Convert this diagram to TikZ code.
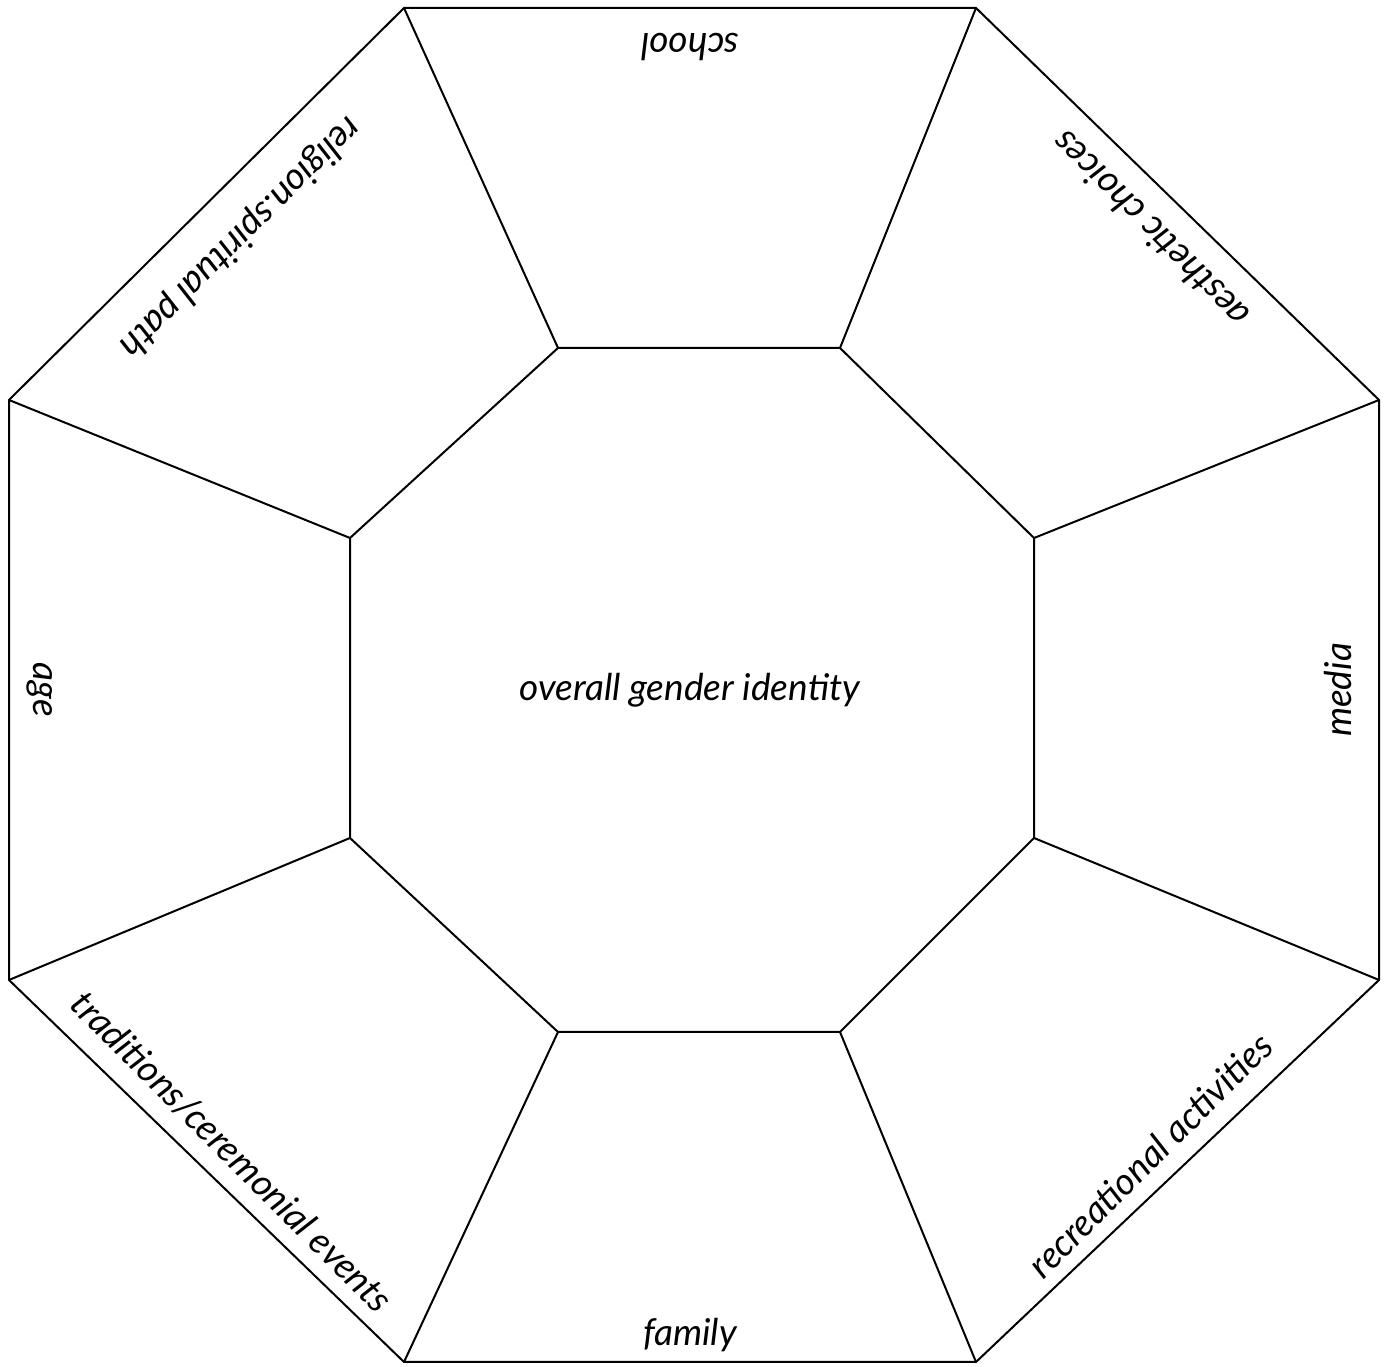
\documentclass[tikz,border=0pt]{standalone}
\usepackage{fontspec}
\setmainfont{Lato}
\begin{document}
\begin{tikzpicture}[x=1pt,y=1pt,
  edge/.style={line width=2pt,line join=miter},
  lbl/.style={font=\fontsize{37}{44}\selectfont\itshape,inner sep=0pt}]
\useasboundingbox (0,0) rectangle (1387,1367);
% outer vertices
\coordinate (o1) at (404,1359);
\coordinate (o2) at (976,1359);
\coordinate (o3) at (1379,967);
\coordinate (o4) at (1379,387);
\coordinate (o5) at (976,5);
\coordinate (o6) at (404,5);
\coordinate (o7) at (9,387);
\coordinate (o8) at (9,967);
% inner vertices
\coordinate (i1) at (558,1019);
\coordinate (i2) at (840,1019);
\coordinate (i3) at (1034,829);
\coordinate (i4) at (1034,529);
\coordinate (i5) at (840,335);
\coordinate (i6) at (558,335);
\coordinate (i7) at (350,529);
\coordinate (i8) at (350,829);
\draw[edge] (o1)--(o2)--(o3)--(o4)--(o5)--(o6)--(o7)--(o8)--cycle;
\draw[edge] (i1)--(i2)--(i3)--(i4)--(i5)--(i6)--(i7)--(i8)--cycle;
\foreach \k in {1,...,8}{\draw[edge] (o\k)--(i\k);}
\node[lbl] (center) at (690,677) {overall gender identity};
\node[lbl,rotate=180] (school) at (690,1320) {school};
\node[lbl,rotate=135] (aesth) at (1150,1137) {aesthetic choices};
\node[lbl,rotate=90] (media) at (1338,677) {media};
\node[lbl,rotate=45] (recr) at (1150,212) {recreational activities};
\node[lbl] (family) at (690,32) {family};
\node[lbl,rotate=-45] (trad) at (232,215) {traditions/ceremonial events};
\node[lbl,rotate=-90] (age) at (40,677) {age};
\node[lbl,rotate=225] (relig) at (240,1130) {religion.spiritual path};
\end{tikzpicture}
\end{document}
